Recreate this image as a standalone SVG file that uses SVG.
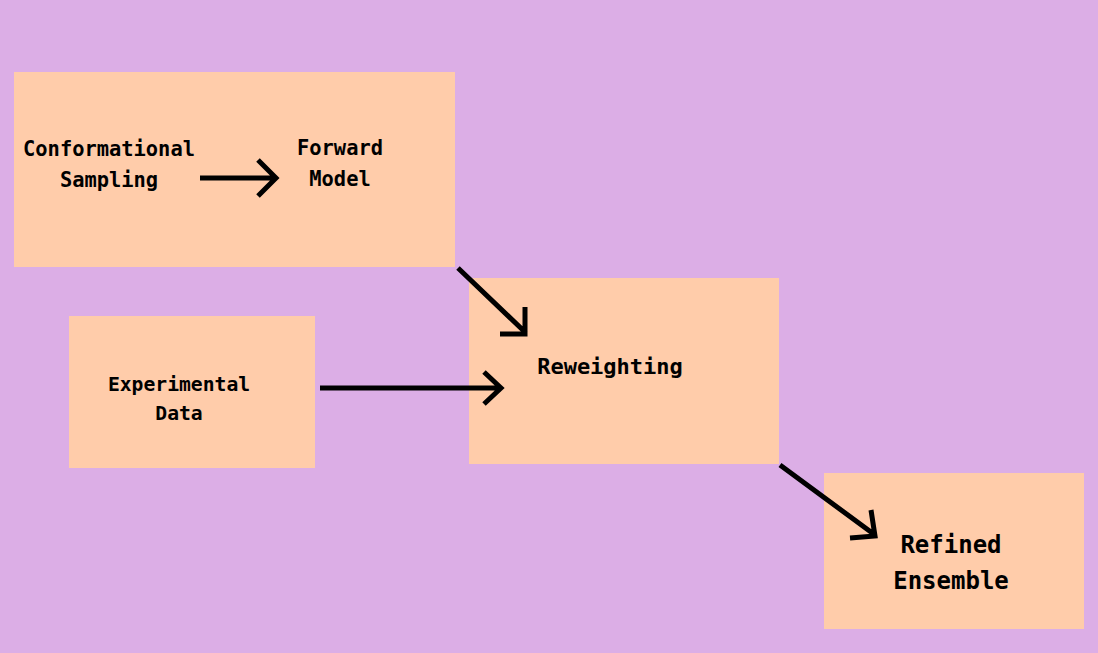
<svg xmlns="http://www.w3.org/2000/svg" width="1098" height="653" viewBox="0 0 1098 653">
<style>
.box{fill:#FFCCAA;}
.t{font-family:"DejaVu Sans Mono","Liberation Mono",monospace;font-weight:bold;fill:#000;text-anchor:middle;}
.c{fill:none;stroke:#000;stroke-width:5;stroke-linecap:butt;stroke-linejoin:miter;}
</style>
<rect width="1098" height="653" fill="#DCAEE6"/>
<g id="node-sampling-forward">
<rect class="box" x="14" y="72" width="441" height="195"/>
<text class="t" font-size="20.4" x="109" y="156">Conformational</text>
<text class="t" font-size="20.4" x="109" y="187">Sampling</text>
<text class="t" font-size="20.4" x="340" y="155">Forward</text>
<text class="t" font-size="20.4" x="340" y="186">Model</text>
</g>
<g id="node-reweighting">
<rect class="box" x="469" y="278" width="310" height="186"/>
<text class="t" font-size="22" x="610" y="374">Reweighting</text>
</g>
<g id="node-experimental">
<rect class="box" x="69" y="316" width="246" height="152"/>
<text class="t" font-size="19.7" x="179" y="391">Experimental</text>
<text class="t" font-size="19.7" x="179" y="420">Data</text>
</g>
<g id="node-refined">
<rect class="box" x="824" y="473" width="260" height="156"/>
<text class="t" font-size="24" x="951" y="553">Refined</text>
<text class="t" font-size="24" x="951" y="589">Ensemble</text>
</g>
<g id="connectors">
<path class="c" d="M200 178 H276 M258 160 L276 178 L258 196"/>
<path class="c" d="M458 268 L526 333 M525 307 V334 H500"/>
<path class="c" d="M320 388 H501 M484 372 L501 388 L484 404"/>
<path class="c" d="M780 465 L875 535 M871 510 L875 536 L850 538"/>
</g>
</svg>
